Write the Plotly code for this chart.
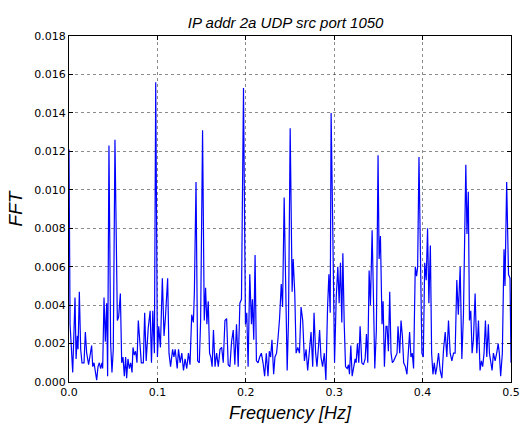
import plotly.graph_objects as go

# Frequency [Hz] and FFT magnitude
freq = [
    0.0000, 0.0012, 0.0042, 0.0068, 0.0080, 0.0094, 0.0102, 0.0117, 0.0132, 0.0147,
    0.0170, 0.0185, 0.0200, 0.0222, 0.0256, 0.0268, 0.0283, 0.0298, 0.0313, 0.0328,
    0.0343, 0.0358, 0.0373, 0.0381, 0.0396, 0.0411, 0.0426, 0.0437, 0.0452, 0.0471,
    0.0486, 0.0501, 0.0520, 0.0547, 0.0562, 0.0581, 0.0596, 0.0611, 0.0626, 0.0641,
    0.0652, 0.0667, 0.0683, 0.0698, 0.0713, 0.0724, 0.0739, 0.0754, 0.0769, 0.0784,
    0.0803, 0.0818, 0.0841, 0.0856, 0.0873, 0.0896, 0.0918, 0.0933, 0.0948, 0.0966,
    0.0981, 0.1000, 0.1015, 0.1034, 0.1056, 0.1075, 0.1090, 0.1116, 0.1131, 0.1149,
    0.1172, 0.1187, 0.1201, 0.1224, 0.1239, 0.1257, 0.1276, 0.1295, 0.1313, 0.1332,
    0.1351, 0.1369, 0.1388, 0.1407, 0.1418, 0.1437, 0.1455, 0.1474, 0.1489, 0.1511,
    0.1530, 0.1545, 0.1560, 0.1575, 0.1590, 0.1604, 0.1619, 0.1634, 0.1652, 0.1670,
    0.1689, 0.1708, 0.1727, 0.1745, 0.1764, 0.1783, 0.1801, 0.1820, 0.1839, 0.1858,
    0.1876, 0.1895, 0.1914, 0.1933, 0.1951, 0.1974, 0.1996, 0.2011, 0.2026, 0.2045,
    0.2064, 0.2075, 0.2090, 0.2105, 0.2120, 0.2139, 0.2157, 0.2176, 0.2195, 0.2213,
    0.2232, 0.2251, 0.2266, 0.2281, 0.2296, 0.2315, 0.2330, 0.2348, 0.2363, 0.2382,
    0.2401, 0.2416, 0.2434, 0.2453, 0.2468, 0.2483, 0.2502, 0.2524, 0.2536, 0.2554,
    0.2569, 0.2588, 0.2607, 0.2625, 0.2644, 0.2663, 0.2682, 0.2700, 0.2719, 0.2738,
    0.2757, 0.2772, 0.2790, 0.2805, 0.2820, 0.2835, 0.2850, 0.2869, 0.2888, 0.2906,
    0.2925, 0.2940, 0.2955, 0.2965, 0.2985, 0.3004, 0.3023, 0.3041, 0.3056, 0.3071,
    0.3086, 0.3098, 0.3113, 0.3128, 0.3147, 0.3162, 0.3173, 0.3188, 0.3203, 0.3218,
    0.3237, 0.3248, 0.3263, 0.3278, 0.3293, 0.3312, 0.3331, 0.3350, 0.3365, 0.3380,
    0.3395, 0.3410, 0.3429, 0.3444, 0.3459, 0.3477, 0.3496, 0.3508, 0.3523, 0.3541,
    0.3553, 0.3568, 0.3586, 0.3598, 0.3613, 0.3628, 0.3643, 0.3658, 0.3673, 0.3692,
    0.3711, 0.3722, 0.3741, 0.3756, 0.3771, 0.3786, 0.3805, 0.3823, 0.3842, 0.3853,
    0.3868, 0.3883, 0.3898, 0.3917, 0.3932, 0.3944, 0.3959, 0.3974, 0.3992, 0.4008,
    0.4024, 0.4041, 0.4056, 0.4071, 0.4088, 0.4102, 0.4117, 0.4132, 0.4147, 0.4162,
    0.4180, 0.4199, 0.4218, 0.4237, 0.4256, 0.4274, 0.4293, 0.4312, 0.4331, 0.4350,
    0.4368, 0.4387, 0.4404, 0.4425, 0.4444, 0.4462, 0.4489, 0.4502, 0.4517, 0.4530,
    0.4545, 0.4560, 0.4575, 0.4594, 0.4613, 0.4632, 0.4650, 0.4665, 0.4680, 0.4695,
    0.4711, 0.4726, 0.4744, 0.4756, 0.4771, 0.4786, 0.4801, 0.4820, 0.4838, 0.4855,
    0.4868, 0.4883, 0.4902, 0.4921, 0.4932, 0.4951, 0.4972, 0.4989, 0.5000,
]
fft = [
    0.0121, 0.0030, 0.0005, 0.0044, 0.0012, 0.0024, 0.0017, 0.0047, 0.0017, 0.0010,
    0.0010, 0.0026, 0.0015, 0.0009, 0.0019, 0.0008, 0.0010, 0.0005, 0.0001, 0.0008,
    0.0010, 0.0007, 0.0010, 0.0007, 0.0044, 0.0021, 0.0041, 0.0003, 0.0123, 0.0020,
    0.0005, 0.0017, 0.0126, 0.0032, 0.0034, 0.0046, 0.0010, 0.0013, 0.0003, 0.0013,
    0.0002, 0.0012, 0.0007, 0.0010, 0.0005, 0.0018, 0.0014, 0.0016, 0.0010, 0.0032,
    0.0017, 0.0010, 0.0010, 0.0036, 0.0011, 0.0028, 0.0037, 0.0010, 0.0037, 0.0015,
    0.0156, 0.0013, 0.0029, 0.0018, 0.0054, 0.0024, 0.0033, 0.0054, 0.0015, 0.0008,
    0.0017, 0.0013, 0.0017, 0.0007, 0.0017, 0.0010, 0.0015, 0.0006, 0.0012, 0.0007,
    0.0015, 0.0009, 0.0035, 0.0031, 0.0046, 0.0104, 0.0011, 0.0010, 0.0032, 0.0131,
    0.0032, 0.0049, 0.0030, 0.0042, 0.0015, 0.0013, 0.0008, 0.0027, 0.0008, 0.0015,
    0.0008, 0.0017, 0.0018, 0.0010, 0.0032, 0.0033, 0.0009, 0.0008, 0.0021, 0.0027,
    0.0009, 0.0030, 0.0008, 0.0041, 0.0043, 0.0153, 0.0030, 0.0036, 0.0008, 0.0056,
    0.0030, 0.0043, 0.0022, 0.0066, 0.0011, 0.0010, 0.0013, 0.0015, 0.0010, 0.0003,
    0.0015, 0.0003, 0.0016, 0.0013, 0.0022, 0.0004, 0.0013, 0.0015, 0.0022, 0.0033,
    0.0051, 0.0039, 0.0096, 0.0046, 0.0006, 0.0032, 0.0132, 0.0047, 0.0064, 0.0046,
    0.0015, 0.0018, 0.0015, 0.0039, 0.0032, 0.0011, 0.0017, 0.0006, 0.0015, 0.0026,
    0.0008, 0.0036, 0.0015, 0.0008, 0.0017, 0.0027, 0.0013, 0.0008, 0.0015, 0.0001,
    0.0039, 0.0056, 0.0036, 0.0140, 0.0076, 0.0010, 0.0044, 0.0060, 0.0041, 0.0062,
    0.0031, 0.0067, 0.0031, 0.0008, 0.0007, 0.0009, 0.0004, 0.0019, 0.0003, 0.0008,
    0.0012, 0.0010, 0.0020, 0.0010, 0.0029, 0.0010, 0.0009, 0.0012, 0.0025, 0.0010,
    0.0058, 0.0040, 0.0079, 0.0044, 0.0007, 0.0027, 0.0118, 0.0064, 0.0076, 0.0030,
    0.0042, 0.0008, 0.0029, 0.0029, 0.0016, 0.0047, 0.0015, 0.0010, 0.0011, 0.0013,
    0.0015, 0.0029, 0.0015, 0.0032, 0.0024, 0.0010, 0.0008, 0.0004, 0.0015, 0.0026,
    0.0013, 0.0015, 0.0007, 0.0060, 0.0055, 0.0060, 0.0117, 0.0067, 0.0015, 0.0013,
    0.0062, 0.0053, 0.0080, 0.0041, 0.0071, 0.0015, 0.0004, 0.0010, 0.0004, 0.0008,
    0.0015, 0.0006, 0.0002, 0.0017, 0.0026, 0.0013, 0.0032, 0.0015, 0.0011, 0.0015,
    0.0015, 0.0053, 0.0035, 0.0060, 0.0012, 0.0035, 0.0113, 0.0077, 0.0099, 0.0032,
    0.0037, 0.0015, 0.0022, 0.0046, 0.0015, 0.0032, 0.0006, 0.0011, 0.0008, 0.0015,
    0.0032, 0.0013, 0.0030, 0.0015, 0.0009, 0.0006, 0.0015, 0.0011, 0.0015, 0.0020,
    0.0015, 0.0003, 0.0015, 0.0069, 0.0050, 0.0104, 0.0056, 0.0054, 0.0010,
]

title_text = "IP addr 2a UDP src port 1050"
x_title = "Frequency [Hz]"
y_title = "FFT"

fig = go.Figure()
fig.add_trace(go.Scatter(
    x=freq, y=fft, mode="lines",
    line=dict(color="#0000FF", width=1.2),
    hoverinfo="x+y",
))

axis_common = dict(
    showline=True, linecolor="black", linewidth=1.2, mirror="ticks",
    ticks="inside", ticklen=4, tickwidth=1, tickcolor="black",
    showgrid=True, gridcolor="rgba(0,0,0,0.45)", gridwidth=0.7, griddash="dot",
    zeroline=False, automargin=False,
    tickfont=dict(family="DejaVu Sans", size=11, color="black"),
)

fig.update_layout(
    width=527, height=425,
    margin=dict(l=69, r=16, t=36, b=43, autoexpand=False),
    paper_bgcolor="white", plot_bgcolor="white",
    showlegend=False,
    title=dict(
        text=title_text, x=0.542, xanchor="center", y=0.946, yanchor="middle",
        font=dict(family="Liberation Sans", size=15, color="black", style="italic"),
    ),
    xaxis=dict(
        range=[0, 0.5], dtick=0.1, tick0=0, tickformat=".1f",
        title=dict(text=x_title, standoff=8,
                   font=dict(family="Liberation Sans", size=18, color="black", style="italic")),
        **axis_common,
    ),
    yaxis=dict(
        range=[0, 0.018], dtick=0.002, tick0=0, tickformat=".3f",
        title=dict(text=y_title, standoff=6,
                   font=dict(family="Liberation Sans", size=19, color="black", style="italic")),
        **axis_common,
    ),
)

fig.write_html("out.html")
